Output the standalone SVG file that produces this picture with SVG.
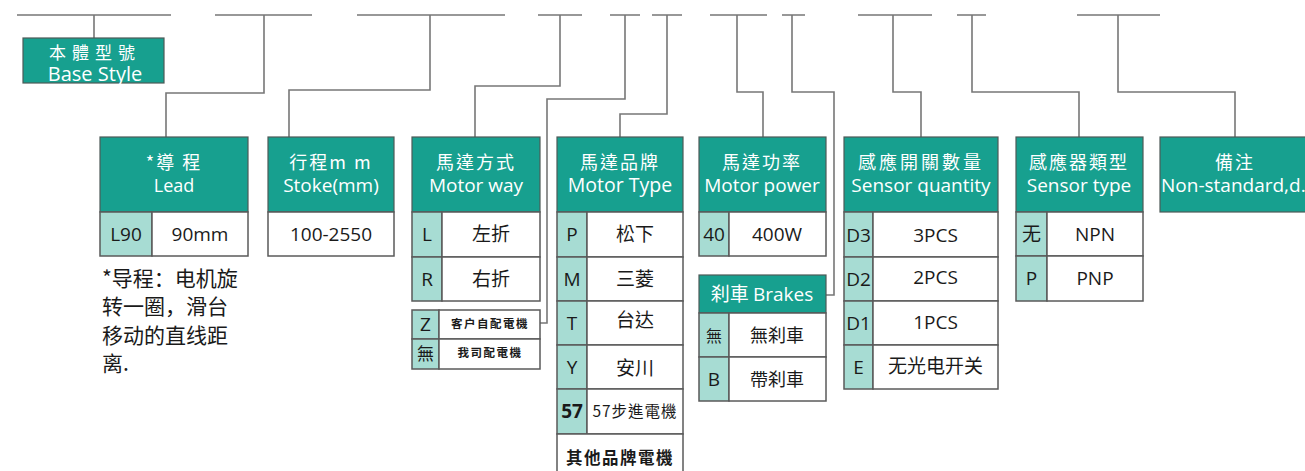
<svg xmlns="http://www.w3.org/2000/svg" width="1305" height="471" viewBox="0 0 1305 471">
<style>
.bg{fill:#fff}
.h{fill:#17a08f;stroke:#4d5a58;stroke-width:1.2}
.c{fill:#a7dcd3;stroke:#5a5a5a;stroke-width:1.5}
.v{fill:#fff;stroke:#5a5a5a;stroke-width:1.5}
.ln{fill:none;stroke:#777;stroke-width:1.6}
text{font-family:"Open Sans","Noto Sans","Noto Sans CJK TC",sans-serif;text-anchor:middle}
.hz{fill:#fff;font-size:18px;letter-spacing:2px;font-family:"Noto Sans CJK TC",sans-serif}
.he{fill:#fff;font-size:19px}
.k{fill:#1a1a1a;font-size:19px;font-weight:500}
.kz{fill:#1a1a1a;font-size:19px;font-family:"Noto Sans CJK TC",sans-serif}
.vz{fill:#1a1a1a;font-size:19px;font-family:"Noto Sans CJK TC",sans-serif}
.vv{fill:#1a1a1a;font-size:19px}
.vs{fill:#1a1a1a;font-size:11.5px;font-weight:bold;letter-spacing:1.5px;font-family:"Noto Sans CJK TC",sans-serif}
.note{fill:#1a1a1a;font-size:21px;text-anchor:start;font-family:"Noto Sans CJK SC",sans-serif}
</style>
<rect class="bg" x="0" y="0" width="1305" height="471"/>

<g id="connectors" class="ln">
<path d="M17 15H171M94 15V38"/>
<path d="M215 15H312M264 15V93H166V137"/>
<path d="M357 15H505M430 15V90H289V137"/>
<path d="M538 15H582M560 15V86H475V137"/>
<path d="M610 15H640M625 15V99H547V323H540"/>
<path d="M652 15H682M667 15V114H620V137"/>
<path d="M710 15H767M737 15V92H763V137"/>
<path d="M782 15H805M792 15V92H834V295H826"/>
<path d="M858 15H932M893 15V92H921V137"/>
<path d="M957 15H986M972 15V92H1079V137"/>
<path d="M1077 15H1160M1118 15V92H1235V137"/>
</g>

<g id="base-style">
<rect class="h" x="23" y="38" width="141" height="45"/>
<text class="hz" x="95" y="59" style="font-size:17px;letter-spacing:6px">本體型號</text>
<text class="he" x="95" y="80.5" style="font-size:20px">Base Style</text>
</g>

<g id="lead">
<rect class="h" x="100" y="137" width="148" height="75"/>
<text class="hz" x="174" y="169">*導 程</text>
<text class="he" x="174" y="192" style="font-size:18px">Lead</text>
<rect class="c" x="100" y="212" width="52" height="44"/>
<rect class="v" x="152" y="212" width="96" height="44"/>
<text class="k" x="126" y="241">L90</text>
<text class="vv" x="200" y="241">90mm</text>
</g>

<g id="lead-note">
<text class="note" x="102" y="286">*导程：电机旋</text>
<text class="note" x="102" y="314">转一圈，滑台</text>
<text class="note" x="102" y="343">移动的直线距</text>
<text class="note" x="102" y="371">离.</text>
</g>

<g id="stroke">
<rect class="h" x="268" y="137" width="126" height="75"/>
<text class="hz" x="331" y="169">行程m m</text>
<text class="he" x="331" y="192">Stoke(mm)</text>
<rect class="v" x="268" y="212" width="126" height="44"/>
<text class="vv" x="331" y="241">100-2550</text>
</g>

<g id="motor-way">
<rect class="h" x="412" y="137" width="128" height="75"/>
<text class="hz" x="476" y="169">馬達方式</text>
<text class="he" x="476" y="192">Motor way</text>
<rect class="c" x="412" y="212" width="30" height="45"/>
<rect class="v" x="442" y="212" width="98" height="45"/>
<rect class="c" x="412" y="257" width="30" height="44"/>
<rect class="v" x="442" y="257" width="98" height="44"/>
<text class="k" x="427" y="241">L</text>
<text class="vz" x="491" y="241">左折</text>
<text class="k" x="427" y="286">R</text>
<text class="vz" x="491" y="286">右折</text>
</g>

<g id="motor-source">
<rect class="c" x="412" y="310" width="27" height="29"/>
<rect class="v" x="439" y="310" width="101" height="29"/>
<rect class="c" x="412" y="339" width="27" height="30"/>
<rect class="v" x="439" y="339" width="101" height="30"/>
<text class="k" x="425.5" y="331">Z</text>
<text class="vs" x="490" y="328">客户自配電機</text>
<text class="kz" x="425.5" y="360" style="font-size:17px">無</text>
<text class="vs" x="490" y="357">我司配電機</text>
</g>

<g id="motor-type">
<rect class="h" x="557" y="137" width="126" height="75"/>
<text class="hz" x="620" y="169">馬達品牌</text>
<text class="he" x="620" y="192" style="font-size:19.5px">Motor Type</text>
<rect class="c" x="557" y="212" width="30" height="45"/>
<rect class="v" x="587" y="212" width="96" height="45"/>
<rect class="c" x="557" y="257" width="30" height="44"/>
<rect class="v" x="587" y="257" width="96" height="44"/>
<rect class="c" x="557" y="301" width="30" height="44"/>
<rect class="v" x="587" y="301" width="96" height="44"/>
<rect class="c" x="557" y="345" width="30" height="44"/>
<rect class="v" x="587" y="345" width="96" height="44"/>
<rect class="c" x="557" y="389" width="30" height="45"/>
<rect class="v" x="587" y="389" width="96" height="45"/>
<rect class="v" x="557" y="434" width="126" height="45"/>
<text class="k" x="572" y="241">P</text>
<text class="vz" x="635" y="241">松下</text>
<text class="k" x="572" y="286">M</text>
<text class="vz" x="635" y="286">三菱</text>
<text class="k" x="572" y="330">T</text>
<text class="vz" x="635" y="327">台达</text>
<text class="k" x="572" y="374">Y</text>
<text class="vz" x="635" y="375">安川</text>
<text class="k" x="572" y="418" style="font-weight:bold">57</text>
<text class="vz" x="635" y="417" style="font-size:15.5px;letter-spacing:1px">57步進電機</text>
<text class="vz" x="620" y="464" style="font-size:16.5px;letter-spacing:1.5px;font-weight:bold">其他品牌電機</text>
</g>

<g id="motor-power">
<rect class="h" x="699" y="137" width="127" height="75"/>
<text class="hz" x="762" y="169">馬達功率</text>
<text class="he" x="762" y="192">Motor power</text>
<rect class="c" x="699" y="212" width="30" height="44"/>
<rect class="v" x="729" y="212" width="97" height="44"/>
<text class="k" x="714" y="241">40</text>
<text class="vv" x="777" y="241">400W</text>
</g>

<g id="brakes">
<rect class="h" x="699" y="275" width="127" height="38"/>
<text class="hz" x="762" y="301" style="letter-spacing:0px;font-size:19px">刹車 <tspan font-family="Open Sans, sans-serif"> Brakes</tspan></text>
<rect class="c" x="699" y="313" width="30" height="44"/>
<rect class="v" x="729" y="313" width="97" height="44"/>
<rect class="c" x="699" y="357" width="30" height="44"/>
<rect class="v" x="729" y="357" width="97" height="44"/>
<text class="kz" x="714" y="342" style="font-size:16px">無</text>
<text class="vz" x="777" y="342" style="font-size:18px">無刹車</text>
<text class="k" x="714" y="386">B</text>
<text class="vz" x="777" y="386" style="font-size:18px">帶刹車</text>
</g>

<g id="sensor-quantity">
<rect class="h" x="844" y="137" width="154" height="75"/>
<text class="hz" x="921" y="169" style="letter-spacing:3px">感應開關數量</text>
<text class="he" x="921" y="192">Sensor quantity</text>
<rect class="c" x="844" y="212" width="29" height="45"/>
<rect class="v" x="873" y="212" width="125" height="45"/>
<rect class="c" x="844" y="257" width="29" height="44"/>
<rect class="v" x="873" y="257" width="125" height="44"/>
<rect class="c" x="844" y="301" width="29" height="44"/>
<rect class="v" x="873" y="301" width="125" height="44"/>
<rect class="c" x="844" y="345" width="29" height="44"/>
<rect class="v" x="873" y="345" width="125" height="44"/>
<text class="k" x="858.5" y="242">D3</text>
<text class="vv" x="935.5" y="242">3PCS</text>
<text class="k" x="858.5" y="286">D2</text>
<text class="vv" x="935.5" y="284">2PCS</text>
<text class="k" x="858.5" y="330">D1</text>
<text class="vv" x="935.5" y="329">1PCS</text>
<text class="k" x="858.5" y="374">E</text>
<text class="vz" x="935.5" y="373">无光电开关</text>
</g>

<g id="sensor-type">
<rect class="h" x="1016" y="137" width="127" height="75"/>
<text class="hz" x="1079" y="169">感應器類型</text>
<text class="he" x="1079" y="192">Sensor type</text>
<rect class="c" x="1016" y="212" width="31" height="44"/>
<rect class="v" x="1047" y="212" width="96" height="44"/>
<rect class="c" x="1016" y="256" width="31" height="45"/>
<rect class="v" x="1047" y="256" width="96" height="45"/>
<text class="kz" x="1031.5" y="241">无</text>
<text class="vv" x="1095" y="241">NPN</text>
<text class="k" x="1031.5" y="285">P</text>
<text class="vv" x="1095" y="285">PNP</text>
</g>

<g id="remark">
<rect class="h" x="1160" y="137" width="155" height="75"/>
<text class="hz" x="1235" y="169">備注</text>
<text class="he" x="1161" y="192" style="text-anchor:start">Non-standard,d.c</text>
</g>
</svg>
